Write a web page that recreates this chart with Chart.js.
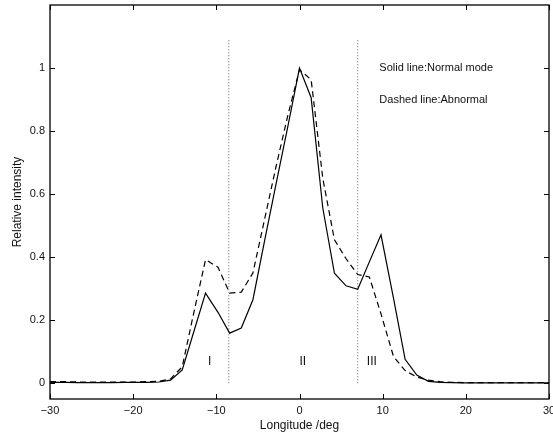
<!DOCTYPE html>
<html>
<head>
<meta charset="utf-8">
<script src="https://cdn.jsdelivr.net/npm/chart.js@4/dist/chart.umd.min.js"></script>
<style>
  html, body { margin: 0; padding: 0; background: #fff; }
  canvas { display: block; }
</style>
</head>
<body>
<canvas id="intensityChart" width="553" height="434"></canvas>
<script>
// longitude samples (deg)
const longitude = [-30, -28.1, -26.7, -25.3, -23.9, -22.5, -21.1, -19.7, -18.3, -16.9,
  -15.5, -14.1, -12.7, -11.3, -9.8, -8.4, -7.0, -5.6, -4.2, -2.8, -1.4, 0,
  1.4, 2.8, 4.2, 5.6, 7.0, 8.4, 9.8, 11.3, 12.7, 14.1, 15.5, 16.9, 18.3,
  19.7, 21.1, 22.5, 23.9, 25.3, 26.7, 28.1, 30];

// solid line: normal mode
const normalMode = [0.003, 0.003, 0.002, 0.002, 0.002, 0.002, 0.003, 0.003, 0.003, 0.004,
  0.010, 0.042, 0.164, 0.286, 0.225, 0.159, 0.175, 0.265, 0.452, 0.635, 0.815, 1.000,
  0.906, 0.556, 0.349, 0.309, 0.298, 0.385, 0.471, 0.270, 0.076, 0.026, 0.006, 0.003, 0.002,
  0.001, 0.001, 0.001, 0.001, 0.001, 0.001, 0.001, 0.001];

// dashed line: abnormal
const abnormalMode = [0.005, 0.005, 0.004, 0.004, 0.004, 0.004, 0.004, 0.004, 0.005, 0.006,
  0.014, 0.052, 0.225, 0.392, 0.368, 0.286, 0.289, 0.350, 0.520, 0.690, 0.850, 0.995,
  0.963, 0.650, 0.455, 0.395, 0.345, 0.337, 0.220, 0.085, 0.040, 0.020, 0.010, 0.005, 0.003,
  0.002, 0.002, 0.002, 0.002, 0.002, 0.002, 0.002, 0.002];

// dotted region boundaries
const boundaryLon = [-8.5, 7.0];
const boundaryTop = 1.09;

// region labels
const regionLabels = ['I', 'II', 'III'];
const regionLon = [-10.8, 0.4, 8.7];
const regionY = 0.068;

// text notes
const notes = ['Solid line:Normal mode', 'Dashed line:Abnormal'];
const notesLon = 9.6;
const notesY = [1.0, 0.9];

const xTicks = [-30, -20, -10, 0, 10, 20, 30];
const yTicks = [0, 0.2, 0.4, 0.6, 0.8, 1];

const FONT = '"Liberation Sans", Arial, Helvetica, sans-serif';

const toPoints = (xs, ys) => xs.map((x, i) => ({ x: x, y: ys[i] }));

const boundarySets = boundaryLon.map(lon => ({
  data: [{ x: lon, y: 0 }, { x: lon, y: boundaryTop }],
  borderColor: '#666',
  borderWidth: 1,
  borderDash: [1, 2],
  pointRadius: 0,
  showLine: true
}));

// box, inward ticks and text
const decorations = {
  id: 'decorations',
  afterDatasetsDraw(chart) {
    const ctx = chart.ctx;
    const a = chart.chartArea;
    const xs = chart.scales.x;
    const ys = chart.scales.y;
    ctx.save();
    ctx.strokeStyle = '#000';
    ctx.lineWidth = 1.3;
    ctx.strokeRect(a.left, a.top, a.right - a.left, a.bottom - a.top);

    ctx.lineWidth = 1;
    ctx.beginPath();
    xTicks.forEach(v => {
      const px = Math.round(xs.getPixelForValue(v)) + 0.5;
      ctx.moveTo(px, a.bottom); ctx.lineTo(px, a.bottom - 5);
      ctx.moveTo(px, a.top); ctx.lineTo(px, a.top + 5);
    });
    yTicks.forEach(v => {
      const py = Math.round(ys.getPixelForValue(v)) + 0.5;
      ctx.moveTo(a.left, py); ctx.lineTo(a.left + 5, py);
      ctx.moveTo(a.right, py); ctx.lineTo(a.right - 5, py);
    });
    ctx.stroke();

    ctx.fillStyle = '#111';
    ctx.font = '12px ' + FONT;
    ctx.textAlign = 'center';
    ctx.textBaseline = 'middle';
    regionLabels.forEach((t, i) => {
      ctx.fillText(t, xs.getPixelForValue(regionLon[i]), ys.getPixelForValue(regionY));
    });

    ctx.font = '11px ' + FONT;
    ctx.textAlign = 'left';
    notes.forEach((t, i) => {
      ctx.fillText(t, xs.getPixelForValue(notesLon), ys.getPixelForValue(notesY[i]));
    });
    ctx.restore();
  }
};

new Chart(document.getElementById('intensityChart'), {
  type: 'scatter',
  data: {
    datasets: [
      {
        label: 'Normal mode',
        data: toPoints(longitude, normalMode),
        borderColor: '#000',
        borderWidth: 1.2,
        pointRadius: 0,
        showLine: true
      },
      {
        label: 'Abnormal',
        data: toPoints(longitude, abnormalMode),
        borderColor: '#000',
        borderWidth: 1.2,
        borderDash: [6, 4],
        pointRadius: 0,
        showLine: true
      },
      ...boundarySets
    ]
  },
  options: {
    responsive: false,
    animation: false,
    devicePixelRatio: 1,
    layout: { padding: { top: 5, right: 4, left: 0, bottom: 0 } },
    plugins: { legend: { display: false }, tooltip: { enabled: false } },
    scales: {
      x: {
        type: 'linear',
        min: -30,
        max: 30,
        afterBuildTicks: s => { s.ticks = xTicks.map(v => ({ value: v })); },
        afterFit: s => { s.height = 35; s.paddingLeft = 0; s.paddingRight = 0; },
        grid: { display: false, drawTicks: false },
        border: { display: false },
        ticks: {
          padding: 5,
          color: '#111',
          font: { family: FONT, size: 11 },
          maxRotation: 0,
          callback: v => (v < 0 ? '\u2212' + Math.abs(v) : String(v))
        },
        title: {
          display: true,
          text: 'Longitude /deg',
          color: '#111',
          font: { family: FONT, size: 12 },
          padding: { top: 0, bottom: 1 }
        }
      },
      y: {
        min: -0.05,
        max: 1.2,
        afterBuildTicks: s => { s.ticks = yTicks.map(v => ({ value: v })); },
        afterFit: s => { s.width = 50; s.paddingTop = 0; s.paddingBottom = 0; },
        grid: { display: false, drawTicks: false },
        border: { display: false },
        ticks: {
          padding: 5,
          color: '#111',
          font: { family: FONT, size: 11 },
          callback: v => String(v)
        },
        title: {
          display: true,
          text: 'Relative intensity',
          color: '#111',
          font: { family: FONT, size: 12 },
          padding: { top: 10, bottom: 0 }
        }
      }
    }
  },
  plugins: [decorations]
});
</script>
</body>
</html>
